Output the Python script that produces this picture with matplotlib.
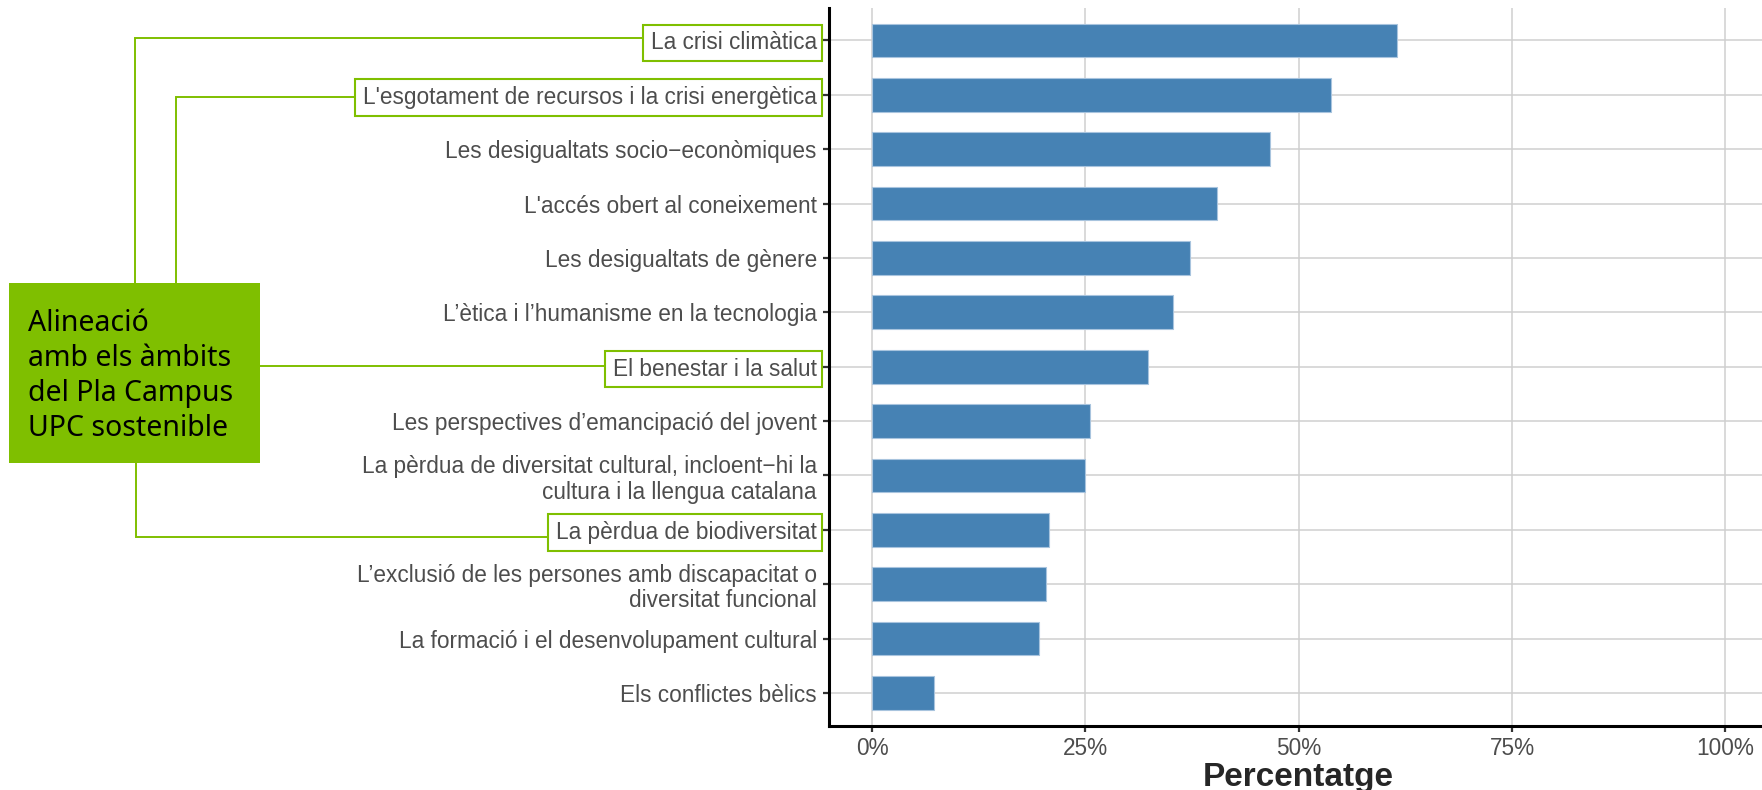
import matplotlib
matplotlib.use("Agg")
import matplotlib.pyplot as plt
from matplotlib.patches import Rectangle
from matplotlib.lines import Line2D
from matplotlib.ticker import FixedLocator

# ---- data ----
categories = [
    "La crisi climàtica",
    "L'esgotament de recursos i la crisi energètica",
    "Les desigualtats socio−econòmiques",
    "L'accés obert al coneixement",
    "Les desigualtats de gènere",
    "L’ètica i l’humanisme en la tecnologia",
    "El benestar i la salut",
    "Les perspectives d’emancipació del jovent",
    "La pèrdua de diversitat cultural, incloent−hi la\ncultura i la llengua catalana",
    "La pèrdua de biodiversitat",
    "L’exclusió de les persones amb discapacitat o\ndiversitat funcional",
    "La formació i el desenvolupament cultural",
    "Els conflictes bèlics",
]
percent = [61.5, 53.8, 46.6, 40.4, 37.3, 35.3, 32.4, 25.5, 25.0, 20.7, 20.4, 19.6, 7.3]
x_ticks = [0, 25, 50, 75, 100]
x_tick_labels = ["0%", "25%", "50%", "75%", "100%"]
highlighted = [0, 1, 6, 9]
box_lines = ["Alineació", "amb els àmbits", "del Pla Campus", "UPC sostenible"]

W, H = 1762, 790
GREEN = "#7fbf00"

fig = plt.figure(figsize=(W / 100, H / 100), dpi=100)
fig.patch.set_facecolor("white")

def fx(x):
    return x / W

def fy(y):
    return 1 - y / H

ax_l, ax_r, ax_t, ax_b = 829.3, 1768.0, 7.8, 725.6
ax = fig.add_axes([fx(ax_l), fy(ax_b), (ax_r - ax_l) / W, (ax_b - ax_t) / H])

n = len(categories)
ypos = list(range(n))
ax.barh(ypos, percent, height=0.62, color="#4682b4", edgecolor="#a8c4de",
        linewidth=0.8, zorder=3)

ax.set_xlim(-5, 105)
ax.set_ylim(n - 1 + 0.6, -0.6)
ax.xaxis.set_major_locator(FixedLocator(x_ticks))
ax.set_xticklabels(x_tick_labels)
ax.set_yticks(ypos)
ax.set_yticklabels(categories, multialignment="right")

ax.grid(True, color="#cfcfcf", linewidth=1.1, zorder=0)
ax.set_axisbelow(True)
for s in ["top", "right"]:
    ax.spines[s].set_visible(False)
for s in ["left", "bottom"]:
    ax.spines[s].set_linewidth(2.2)
    ax.spines[s].set_color("black")

ax.tick_params(axis="y", length=4, width=1.6, color="#333333", pad=5,
               labelsize=16.3, labelcolor="#4d4d4d")
ax.tick_params(axis="x", length=4, width=1.6, color="#333333", pad=4,
               labelsize=16.3, labelcolor="#4d4d4d")
for lab in ax.get_yticklabels() + ax.get_xticklabels():
    lab.set_fontfamily("Liberation Sans")
    lab.set_linespacing(1.15)

ax.set_xlabel("Percentatge", fontsize=24, fontweight="bold", color="#262626",
              family="Liberation Sans", labelpad=2)

# ---- green box ----
bx0, by0, bx1, by1 = 8.5, 283, 260, 463.3
fig.patches.append(Rectangle((fx(bx0), fy(by1)), (bx1 - bx0) / W, (by1 - by0) / H,
                             transform=fig.transFigure, facecolor=GREEN,
                             edgecolor="none", zorder=2))
baselines = [331, 366.5, 401, 436]
for txt, yb in zip(box_lines, baselines):
    fig.text(fx(27.5), fy(yb), txt, fontsize=20.5, family=["Noto Sans", "DejaVu Sans"],
             color="black", va="baseline", ha="left", zorder=3)

# ---- label boxes around highlighted tick labels ----
fig.canvas.draw()
renderer = fig.canvas.get_renderer()
ylabels = ax.get_yticklabels()
box_left = {}
for i in highlighted:
    bb = ylabels[i].get_window_extent(renderer)
    left = bb.x0 - 8
    right = 822
    yc = H - (bb.y0 + bb.y1) / 2  # pixel y from top
    top, bot = yc - 18.3, yc + 18.3
    box_left[i] = left
    fig.patches.append(Rectangle((fx(left), fy(bot)), (right - left) / W, (bot - top) / H,
                                 transform=fig.transFigure, facecolor="none",
                                 edgecolor=GREEN, linewidth=1.5, zorder=4))

def conn(points):
    xs = [fx(p[0]) for p in points]
    ys = [fy(p[1]) for p in points]
    fig.lines.append(Line2D(xs, ys, transform=fig.transFigure, color=GREEN,
                            linewidth=1.4, zorder=1, solid_joinstyle="miter"))

conn([(135, by0), (135, 37.7), (box_left[0], 37.7)])
conn([(175.6, by0), (175.6, 97.3), (box_left[1], 97.3)])
conn([(bx1, 366), (box_left[6], 366)])
conn([(135.7, by1), (135.7, 536.7), (box_left[9], 536.7)])

fig.savefig("out.png", dpi=100, facecolor="white")
